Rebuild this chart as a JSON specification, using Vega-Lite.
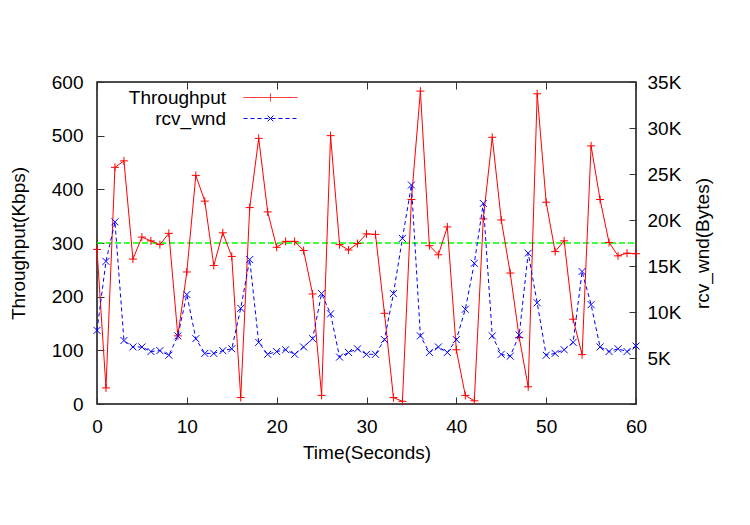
{
  "$schema": "https://vega.github.io/schema/vega-lite/v6.json",
  "autosize": "none",
  "width": 539,
  "height": 322,
  "padding": {"left": 97, "top": 82, "right": 114, "bottom": 121},
  "background": "white",
  "config": {
    "font": "Liberation Sans",
    "view": {"stroke": "#111", "strokeWidth": 1.5},
    "axis": {"grid": false, "domain": false, "labelFlush": false, "tickColor": "#333", "labelColor": "#000", "titleColor": "#000", "labelFontSize": 19, "titleFontSize": 19, "titleFontWeight": "normal", "labelFont": "Liberation Sans", "titleFont": "Liberation Sans"},
    "legend": {"labelFont": "Liberation Sans"}
  },
  "datasets": {
    "series": [
      {"t": 0, "throughput": 288, "rcv_wnd": 8000},
      {"t": 1, "throughput": 30, "rcv_wnd": 15500},
      {"t": 2, "throughput": 441, "rcv_wnd": 19800},
      {"t": 3, "throughput": 453, "rcv_wnd": 6900},
      {"t": 4, "throughput": 270, "rcv_wnd": 6200},
      {"t": 5, "throughput": 311, "rcv_wnd": 6200},
      {"t": 6, "throughput": 304, "rcv_wnd": 5700},
      {"t": 7, "throughput": 297, "rcv_wnd": 5800},
      {"t": 8, "throughput": 318, "rcv_wnd": 5300},
      {"t": 9, "throughput": 127, "rcv_wnd": 7400},
      {"t": 10, "throughput": 246, "rcv_wnd": 11900},
      {"t": 11, "throughput": 426, "rcv_wnd": 7100},
      {"t": 12, "throughput": 378, "rcv_wnd": 5500},
      {"t": 13, "throughput": 258, "rcv_wnd": 5500},
      {"t": 14, "throughput": 319, "rcv_wnd": 5800},
      {"t": 15, "throughput": 275, "rcv_wnd": 6000},
      {"t": 16, "throughput": 12, "rcv_wnd": 10400},
      {"t": 17, "throughput": 366, "rcv_wnd": 15700},
      {"t": 18, "throughput": 495, "rcv_wnd": 6700},
      {"t": 19, "throughput": 358, "rcv_wnd": 5400},
      {"t": 20, "throughput": 292, "rcv_wnd": 5700},
      {"t": 21, "throughput": 303, "rcv_wnd": 5900},
      {"t": 22, "throughput": 303, "rcv_wnd": 5400},
      {"t": 23, "throughput": 286, "rcv_wnd": 6200},
      {"t": 24, "throughput": 205, "rcv_wnd": 7100},
      {"t": 25, "throughput": 16, "rcv_wnd": 12000},
      {"t": 26, "throughput": 500, "rcv_wnd": 9800},
      {"t": 27, "throughput": 297, "rcv_wnd": 5100},
      {"t": 28, "throughput": 287, "rcv_wnd": 5600},
      {"t": 29, "throughput": 299, "rcv_wnd": 6000},
      {"t": 30, "throughput": 317, "rcv_wnd": 5400},
      {"t": 31, "throughput": 316, "rcv_wnd": 5400},
      {"t": 32, "throughput": 169, "rcv_wnd": 7000},
      {"t": 33, "throughput": 12, "rcv_wnd": 12000},
      {"t": 34, "throughput": 5, "rcv_wnd": 18000},
      {"t": 35, "throughput": 381, "rcv_wnd": 23800},
      {"t": 36, "throughput": 583, "rcv_wnd": 7400},
      {"t": 37, "throughput": 295, "rcv_wnd": 5600},
      {"t": 38, "throughput": 278, "rcv_wnd": 6200},
      {"t": 39, "throughput": 330, "rcv_wnd": 5600},
      {"t": 40, "throughput": 101, "rcv_wnd": 7000},
      {"t": 41, "throughput": 16, "rcv_wnd": 10300},
      {"t": 42, "throughput": 6, "rcv_wnd": 15300},
      {"t": 43, "throughput": 345, "rcv_wnd": 21800},
      {"t": 44, "throughput": 497, "rcv_wnd": 7400},
      {"t": 45, "throughput": 343, "rcv_wnd": 5400},
      {"t": 46, "throughput": 244, "rcv_wnd": 5200},
      {"t": 47, "throughput": 124, "rcv_wnd": 7500},
      {"t": 48, "throughput": 32, "rcv_wnd": 16400},
      {"t": 49, "throughput": 578, "rcv_wnd": 11000},
      {"t": 50, "throughput": 376, "rcv_wnd": 5300},
      {"t": 51, "throughput": 284, "rcv_wnd": 5500},
      {"t": 52, "throughput": 304, "rcv_wnd": 5900},
      {"t": 53, "throughput": 158, "rcv_wnd": 6700},
      {"t": 54, "throughput": 92, "rcv_wnd": 14400},
      {"t": 55, "throughput": 481, "rcv_wnd": 10800},
      {"t": 56, "throughput": 381, "rcv_wnd": 6200},
      {"t": 57, "throughput": 301, "rcv_wnd": 5700},
      {"t": 58, "throughput": 276, "rcv_wnd": 6000},
      {"t": 59, "throughput": 281, "rcv_wnd": 5700},
      {"t": 60, "throughput": 280, "rcv_wnd": 6300}
    ],
    "limit": [
      {"t": 0, "level": 300},
      {"t": 60, "level": 300}
    ]
  },
  "resolve": {"scale": {"y": "independent"}, "axis": {"x": "independent"}},
  "layer": [
    {
      "layer": [
        {
          "data": {"name": "limit"},
          "mark": {"type": "line", "color": "#00ff00", "strokeWidth": 1.5, "strokeDash": [6, 3]},
          "encoding": {
            "x": {"field": "t", "type": "quantitative", "scale": {"domain": [0, 60], "nice": false},
                  "axis": {"orient": "bottom", "values": [0, 10, 20, 30, 40, 50, 60], "tickSize": -7, "labelPadding": 20, "title": "Time(Seconds)", "titleX": 269.5, "titleY": 48, "titleBaseline": "middle", "titleAlign": "center"}},
            "y": {"field": "level", "type": "quantitative", "scale": {"domain": [0, 600], "nice": false},
                  "axis": {"orient": "left", "values": [0, 100, 200, 300, 400, 500, 600], "tickSize": -7, "labelPadding": 21, "title": "Throughput(Kbps)", "titleX": -79, "titleY": 161, "titleAngle": -90, "titleBaseline": "middle", "titleAlign": "center"}}
          }
        },
        {
          "data": {"name": "series"},
          "mark": {"type": "line", "strokeWidth": 1},
          "encoding": {
            "x": {"field": "t", "type": "quantitative"},
            "y": {"field": "throughput", "type": "quantitative"},
            "color": {"datum": "Throughput", "type": "nominal",
                      "scale": {"domain": ["Throughput", "rcv_wnd"], "range": ["#ff0000", "#0000ff"]},
                      "legend": {
                        "title": null, "orient": "none", "legendX": 164, "legendY": 6,
                        "labelFontSize": 19, "labelColor": "#000", "symbolSize": 100, "rowPadding": 1, "padding": 0,
                        "encode": {
                          "symbols": {"update": {
                            "shape": {"signal": "datum.value === 'Throughput' ? 'M-5.4,0L5.4,0M0,-0.8L0,0.8' : 'M-5.4,0L5.4,0M0,0L-0.7,-0.7M0,0L0.7,0.7M0,0L-0.7,0.7M0,0L0.7,-0.7'"},
                            "strokeDash": {"signal": "datum.value === 'rcv_wnd' ? [4, 3] : [1, 0]"},
                            "fill": {"value": "transparent"},
                            "strokeWidth": {"value": 1},
                            "size": {"value": 100}
                          }},
                          "labels": {"update": {"align": {"value": "right"}, "dx": {"value": -58}}}
                        }
                      }}
          }
        },
        {
          "data": {"name": "series"},
          "mark": {"type": "point", "shape": "M-1,0L1,0M0,-1L0,1", "filled": false, "size": 64, "strokeWidth": 1, "color": "#ff0000", "opacity": 1},
          "encoding": {
            "x": {"field": "t", "type": "quantitative"},
            "y": {"field": "throughput", "type": "quantitative"}
          }
        }
      ]
    },
    {
      "data": {"name": "series"},
      "layer": [
        {
          "mark": {"type": "line", "strokeWidth": 1, "strokeDash": [4, 3]},
          "encoding": {
            "x": {"field": "t", "type": "quantitative", "scale": {"domain": [0, 60], "nice": false},
                  "axis": {"orient": "top", "values": [0, 10, 20, 30, 40, 50, 60], "tickSize": -7, "labels": false, "title": null}},
            "y": {"field": "rcv_wnd", "type": "quantitative", "scale": {"domain": [0, 35000], "nice": false},
                  "axis": {"orient": "right", "values": [0, 5000, 10000, 15000, 20000, 25000, 30000, 35000], "tickSize": -7, "labelPadding": 18,
                           "labelExpr": "datum.value === 0 ? '' : (datum.value / 1000) + 'K'",
                           "title": "rcv_wnd(Bytes)", "titleX": 66, "titleY": 161, "titleAngle": -90, "titleBaseline": "middle", "titleAlign": "center"}},
            "color": {"datum": "rcv_wnd", "type": "nominal"}
          }
        },
        {
          "mark": {"type": "point", "shape": "M-1,-1L1,1M-1,1L1,-1", "filled": false, "size": 49, "strokeWidth": 1, "color": "#0000ff", "opacity": 1},
          "encoding": {
            "x": {"field": "t", "type": "quantitative"},
            "y": {"field": "rcv_wnd", "type": "quantitative"}
          }
        }
      ]
    }
  ]
}
